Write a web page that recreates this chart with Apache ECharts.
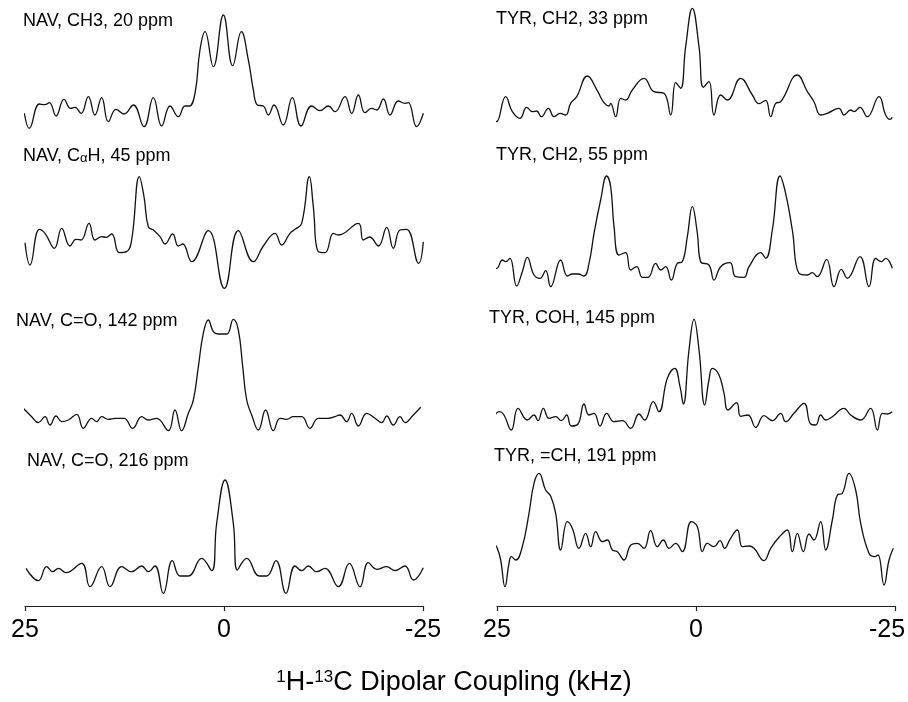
<!DOCTYPE html>
<html><head><meta charset="utf-8">
<script src="https://cdn.jsdelivr.net/npm/echarts@6/dist/echarts.min.js"></script>
<style>html,body{margin:0;padding:0;background:#fff}#c{width:908px;height:702px}</style>
</head><body><div id="c"></div>
<script>
// x: dipolar coupling (kHz), y: intensity (arbitrary units)
const navCH3_20 = [[25.08,6.7],[24.46,-8.3],[23.2,16],[22.49,15.3],[21.94,17.3],[21.1,4],[20.1,20.7],[19.26,11.7],[18.72,12.7],[17.96,6.7],[17.04,23.3],[16.21,5],[15.37,22.3],[14.53,-1.7],[13.57,10.7],[12.56,6],[11.39,15],[10.05,-6.7],[8.88,22.3],[7.83,-6],[6.78,14],[5.74,3.3],[4.9,14],[4.36,14],[3.64,26.7],[3.02,70],[2.39,88.3],[1.34,53.3],[0.08,105],[-1.09,54.3],[-2.18,88.3],[-3.06,60],[-3.69,30],[-4.19,15],[-4.94,14],[-5.57,5],[-6.28,15],[-7.45,-5],[-8.58,22.3],[-9.67,-6],[-11.01,14],[-12.06,9.3],[-13.11,14],[-13.94,8.3],[-15.2,23.3],[-16.04,6.7],[-16.88,25],[-17.71,7.3],[-18.55,11.7],[-19.18,10],[-20.02,21],[-20.85,5],[-21.9,19],[-22.74,16.7],[-23.16,17.3],[-24.2,-6.7],[-25.04,6.7]];
const navCaH_45 = [[25.0,-2.7],[24.37,-25],[23.2,10.7],[22.49,6.7],[21.31,-8.3],[20.39,11.7],[19.35,-6],[18.59,0.7],[17.96,0],[16.96,16.7],[16.21,0],[15.37,3.3],[14.82,2.7],[14.11,6],[13.15,-12.7],[12.23,-11.7],[11.6,0],[10.64,63.3],[10.05,43.3],[9.51,13.3],[8.88,10],[8.04,3.3],[7.41,-4],[6.45,6],[5.74,-6],[5.19,-4],[4.06,-21.7],[1.97,9.3],[-0.04,-48.3],[-1.8,9.3],[-3.69,-21.7],[-4.94,-6],[-6.41,6.7],[-7.24,-5],[-8.29,6.7],[-8.92,10.7],[-9.76,16.7],[-10.72,63.3],[-11.22,33.3],[-11.85,-11.7],[-12.69,-12.7],[-13.74,6.7],[-14.36,5],[-16.88,16.7],[-17.5,0],[-18.3,3],[-19.39,-6],[-20.44,12.7],[-21.27,-8.3],[-22.11,10],[-22.95,10.7],[-24.45,-23.3],[-25.04,-1.7]];
const navCO_142 = [[25.29,12.3],[24.16,3.3],[23.32,-2.7],[22.49,3.3],[21.86,-5],[21.1,4],[20.39,-1.7],[19.56,0],[18.51,5.7],[17.67,-8.3],[16.62,1.7],[16.0,-1.7],[15.37,3.3],[14.53,0.7],[13.69,1.7],[12.56,1.7],[11.47,-8.3],[10.34,3.3],[9.51,0],[8.46,1.7],[6.99,-10.7],[6.16,10],[5.32,-10.7],[4.48,6.7],[3.85,20],[3.22,53.3],[2.6,86.7],[1.97,100],[1.34,88.3],[0.71,86],[-0.34,86],[-1.17,100.7],[-1.8,90],[-2.35,53.3],[-2.85,20],[-3.48,5],[-4.31,-10],[-5.23,10],[-6.2,-10.7],[-7.04,1.7],[-7.87,0.7],[-8.71,3.3],[-9.76,3.3],[-10.8,-8.3],[-11.85,1.7],[-13.11,1.7],[-13.94,3.3],[-14.57,5],[-15.41,-1.7],[-16.04,6.7],[-16.88,-6],[-17.92,6.7],[-18.97,1.7],[-19.81,-2.7],[-20.44,4],[-21.27,-5],[-22.11,3.3],[-22.74,-2.7],[-23.79,5],[-24.71,12.7]];
const navCO_216 = [[24.87,4.7],[23.32,-7.7],[22.28,6.3],[21.52,1.3],[20.81,4.7],[19.85,0.3],[17.88,9.7],[16.83,-13.7],[15.37,6.3],[14.32,-13.7],[12.86,6.3],[11.6,1.3],[10.34,7],[9.51,1.3],[8.67,7],[7.62,-20.3],[6.49,12.3],[5.53,-3],[4.48,-3],[2.81,14.7],[1.55,2.3],[0.92,49.7],[-0.13,93],[-1.17,49.7],[-1.68,3],[-2.85,14.7],[-4.44,-3],[-5.36,-3],[-6.53,12.3],[-7.79,-20.3],[-8.92,7],[-9.76,2.3],[-10.59,7],[-11.64,1.3],[-12.69,4.7],[-14.36,-13.7],[-15.75,9.7],[-17.09,-13.7],[-18.13,10.3],[-19.18,3.7],[-20.44,6.3],[-21.48,2.3],[-22.74,7],[-23.79,-7],[-25.04,5.3]];
const tyrCH2_33 = [[25.46,-2.7],[25.04,-11.7],[23.91,13.3],[23.07,-1.7],[22.11,-8.3],[21.27,2.7],[20.56,-1.7],[20.02,-1],[19.43,-6.7],[18.55,1.7],[17.84,-6.7],[17.09,-3.3],[16.37,-5],[15.75,6.7],[14.99,13.3],[13.65,34],[12.4,19.3],[11.56,7.3],[10.93,4],[10.72,6.7],[10.09,-6.7],[9.46,11.7],[8.84,10],[8.0,20],[6.53,31.7],[5.28,18.3],[4.02,16.7],[3.18,-5],[2.55,27.3],[1.93,21.7],[1.3,63.3],[0.46,101.7],[-0.38,63.3],[-0.92,22.7],[-1.63,28.3],[-2.26,-5],[-3.1,15],[-3.94,10],[-5.61,31.7],[-7.08,15],[-7.91,6.3],[-8.75,9.7],[-9.38,-6.7],[-10.01,6.7],[-10.64,8.3],[-12.73,35],[-13.99,18.3],[-14.82,8.3],[-15.66,-5],[-16.5,-3.3],[-17.96,1.7],[-18.59,-5],[-19.43,0],[-19.85,-1.7],[-20.6,2.7],[-21.52,-6.7],[-22.99,13.3],[-23.83,-5],[-24.37,-9.3],[-24.66,-7.3]];
const tyrCH2_55 = [[25.46,5.7],[25.04,4.7],[24.33,13],[23.91,11.3],[23.37,14.7],[22.53,-13],[21.82,1.3],[21.19,15.7],[20.35,-2],[19.6,-5.3],[18.89,2.3],[18.26,-13.7],[17.0,13],[16.16,-3],[15.54,-1],[14.82,-1],[14.07,-3],[13.44,9.7],[12.81,39.7],[11.98,73],[11.22,97],[10.72,86.3],[10.3,46.3],[9.67,18],[8.84,20.3],[8.21,3],[7.45,6.3],[6.74,-4.3],[6.03,-4.3],[5.07,9.7],[4.44,3],[3.81,6.3],[3.1,-7],[2.35,9.7],[1.72,11.3],[1.09,36.3],[0.46,66.3],[-0.17,39.7],[-0.59,11.3],[-1.63,8],[-2.26,-7],[-3.1,6.3],[-4.27,10.3],[-4.98,-3.7],[-6.03,-4.3],[-6.66,6.3],[-8.12,20.3],[-8.75,14.7],[-9.59,43],[-10.55,97],[-11.26,79.7],[-12.1,43],[-12.94,-0.3],[-13.99,-2],[-14.61,0.3],[-15.24,-3.7],[-16.41,13.7],[-17.34,-13.7],[-18.26,3.7],[-19.01,-5.3],[-20.6,16.3],[-21.73,-13.7],[-22.57,14.7],[-23.28,11.3],[-23.83,14.7],[-24.66,4.7]];
const tyrCOH_145 = [[25.38,-0.3],[24.75,5.3],[24.2,3],[23.2,-13],[22.36,8.7],[21.19,-3],[20.35,2],[19.85,-3.7],[19.18,8.7],[18.47,-1.3],[17.63,0.3],[16.92,-3.7],[16.25,2],[15.66,-9],[14.82,-7],[14.07,13],[13.44,2],[12.81,3.7],[12.06,-9],[11.22,3.7],[10.3,-4.7],[9.25,-3.7],[8.21,-11.3],[7.16,3],[6.45,-3],[5.36,15.3],[4.65,5.3],[3.6,38.7],[2.68,48.7],[2.01,30.3],[1.59,13],[0.88,67],[0.25,97.7],[-0.38,67],[-1.09,12],[-1.63,37],[-2.05,48.7],[-2.89,42],[-3.52,23.7],[-4.02,7],[-5.11,14.3],[-5.61,0.7],[-6.53,2],[-7.5,-10.3],[-8.54,1.3],[-9.59,-3.7],[-10.64,3.7],[-11.26,-4.7],[-12.31,3.7],[-13.57,13.7],[-14.4,-7],[-15.03,-8],[-15.66,2],[-16.29,-3],[-17.13,0.3],[-18.59,8.7],[-19.43,2],[-20.69,-3],[-21.94,8.7],[-22.78,-13],[-23.41,3.7],[-24.04,3],[-24.66,5.3]];
const tyrCH_191 = [[25.38,3.7],[24.96,-1.3],[24.54,-13],[24.0,-39.7],[23.49,-16.3],[23.2,-9.7],[22.65,-13],[21.82,0.3],[20.98,33.7],[20.35,63.7],[19.72,73.7],[18.89,57],[18.26,51],[17.63,33.7],[17.0,-3],[16.16,25.3],[15.54,18.7],[14.7,-1.3],[13.86,13.7],[13.23,0.3],[12.6,15.3],[11.77,5.3],[11.14,7],[10.51,-3],[9.88,-4.7],[9.05,-13],[8.21,1.7],[7.37,3.7],[6.53,-1.3],[5.7,16.3],[4.86,0.3],[4.1,7],[3.39,-1.3],[2.55,3.7],[1.72,-4.7],[0.59,25.3],[-0.17,20.3],[-0.8,-4.7],[-1.42,3.7],[-2.26,0.3],[-3.02,6.3],[-3.6,-1.3],[-4.27,7.7],[-5.19,17],[-5.82,0.3],[-6.66,1],[-7.29,-1.3],[-8.54,-13.7],[-9.38,-1.3],[-10.43,9.7],[-11.47,17],[-12.1,-4.7],[-12.73,13.7],[-13.48,-4.7],[-14.2,13],[-14.82,7],[-15.66,25.3],[-16.29,-3],[-17.13,27],[-17.76,52],[-18.38,53.7],[-19.22,73.7],[-20.06,57],[-20.69,23.7],[-21.73,-6.3],[-22.45,-9.7],[-22.86,-8],[-23.62,-38],[-24.25,-13],[-24.79,-1.3]];

const panelLabels = ['NAV, CH3, 20 ppm','NAV, C{a|α}H, 45 ppm','NAV, C=O, 142 ppm','NAV, C=O, 216 ppm',
                     'TYR, CH2, 33 ppm','TYR, CH2, 55 ppm','TYR, COH, 145 ppm','TYR, =CH, 191 ppm'];
const spectra = [navCH3_20, navCaH_45, navCO_142, navCO_216, tyrCH2_33, tyrCH2_55, tyrCOH_145, tyrCH_191];
const tickValues = [25, 0, -25];
const tickLabels = ['25', '0', '-25'];
const axisTitle = '{s|1}H-{s|13}C Dipolar Coupling (kHz)';

// layout
const colLeft = [25, 497], colWidth = 398;
const rowTop = [0, 140, 300, 440], rowH = [150, 160, 150, 166];
const yRange = [[-30,120],[-60,100],[-30,120],[-33,133],[-40,110],[-27,133],[-33,117],[-59,107]];
const labelPos = [[23,12],[23,147],[16,312],[27,452],[496,10],[496,146],[489,309],[494,447]];

const FONT = 'Liberation Sans, Arial, Helvetica, sans-serif';
const grids = [], xAxes = [], yAxes = [], series = [], graphics = [];
for (let i = 0; i < 8; i++) {
  const col = i < 4 ? 0 : 1, row = i % 4;
  grids.push({left: colLeft[col], width: colWidth, top: rowTop[row], height: rowH[row],
    containLabel: false, outerBoundsMode: 'none'});
  const bottom = row === 3;
  xAxes.push({
    gridIndex: i, type: 'value', min: -25, max: 25, interval: 25, inverse: true,
    show: bottom,
    axisLine: {show: true, onZero: false, lineStyle: {color: '#222', width: 1.2}},
    axisTick: {show: true, inside: false, length: 5, lineStyle: {color: '#222', width: 1.2}},
    axisLabel: {show: true, fontFamily: FONT, fontSize: 25, color: '#000', margin: 12,
      formatter: v => {
        const k = tickValues.indexOf(v);
        if (k < 0) return '';
        return (col === 1 && v === -25) ? '{r|' + tickLabels[k] + '}' : tickLabels[k];
      },
      rich: {r: {fontFamily: FONT, fontSize: 25, color: '#000', padding: [0, 16, 0, 0]}}},
    splitLine: {show: false}
  });
  yAxes.push({gridIndex: i, type: 'value', min: yRange[i][0], max: yRange[i][1], show: false, splitLine: {show: false}});
  series.push({
    type: 'line', xAxisIndex: i, yAxisIndex: i, data: spectra[i], showSymbol: false, symbol: 'none',
    smooth: 0.45, lineStyle: {color: '#111', width: 1.3}, silent: true, animation: false, clip: false
  });
  graphics.push({type: 'text', left: labelPos[i][0], top: labelPos[i][1],
    style: {text: panelLabels[i], fill: '#000', font: '18px ' + FONT,
      rich: {a: {fontSize: 13, fontFamily: FONT, verticalAlign: 'bottom', lineHeight: 12}}}});
}
graphics.push({type: 'text', left: 'center', top: 669,
  style: {text: axisTitle, fill: '#000', font: '27px ' + FONT,
    rich: {s: {fontSize: 17, fontFamily: FONT, verticalAlign: 'top', lineHeight: 17}}}});

const chart = echarts.init(document.getElementById('c'), null, {renderer: 'canvas'});
chart.setOption({
  animation: false, backgroundColor: '#fff',
  grid: grids, xAxis: xAxes, yAxis: yAxes, series: series, graphic: graphics
});
</script></body></html>
